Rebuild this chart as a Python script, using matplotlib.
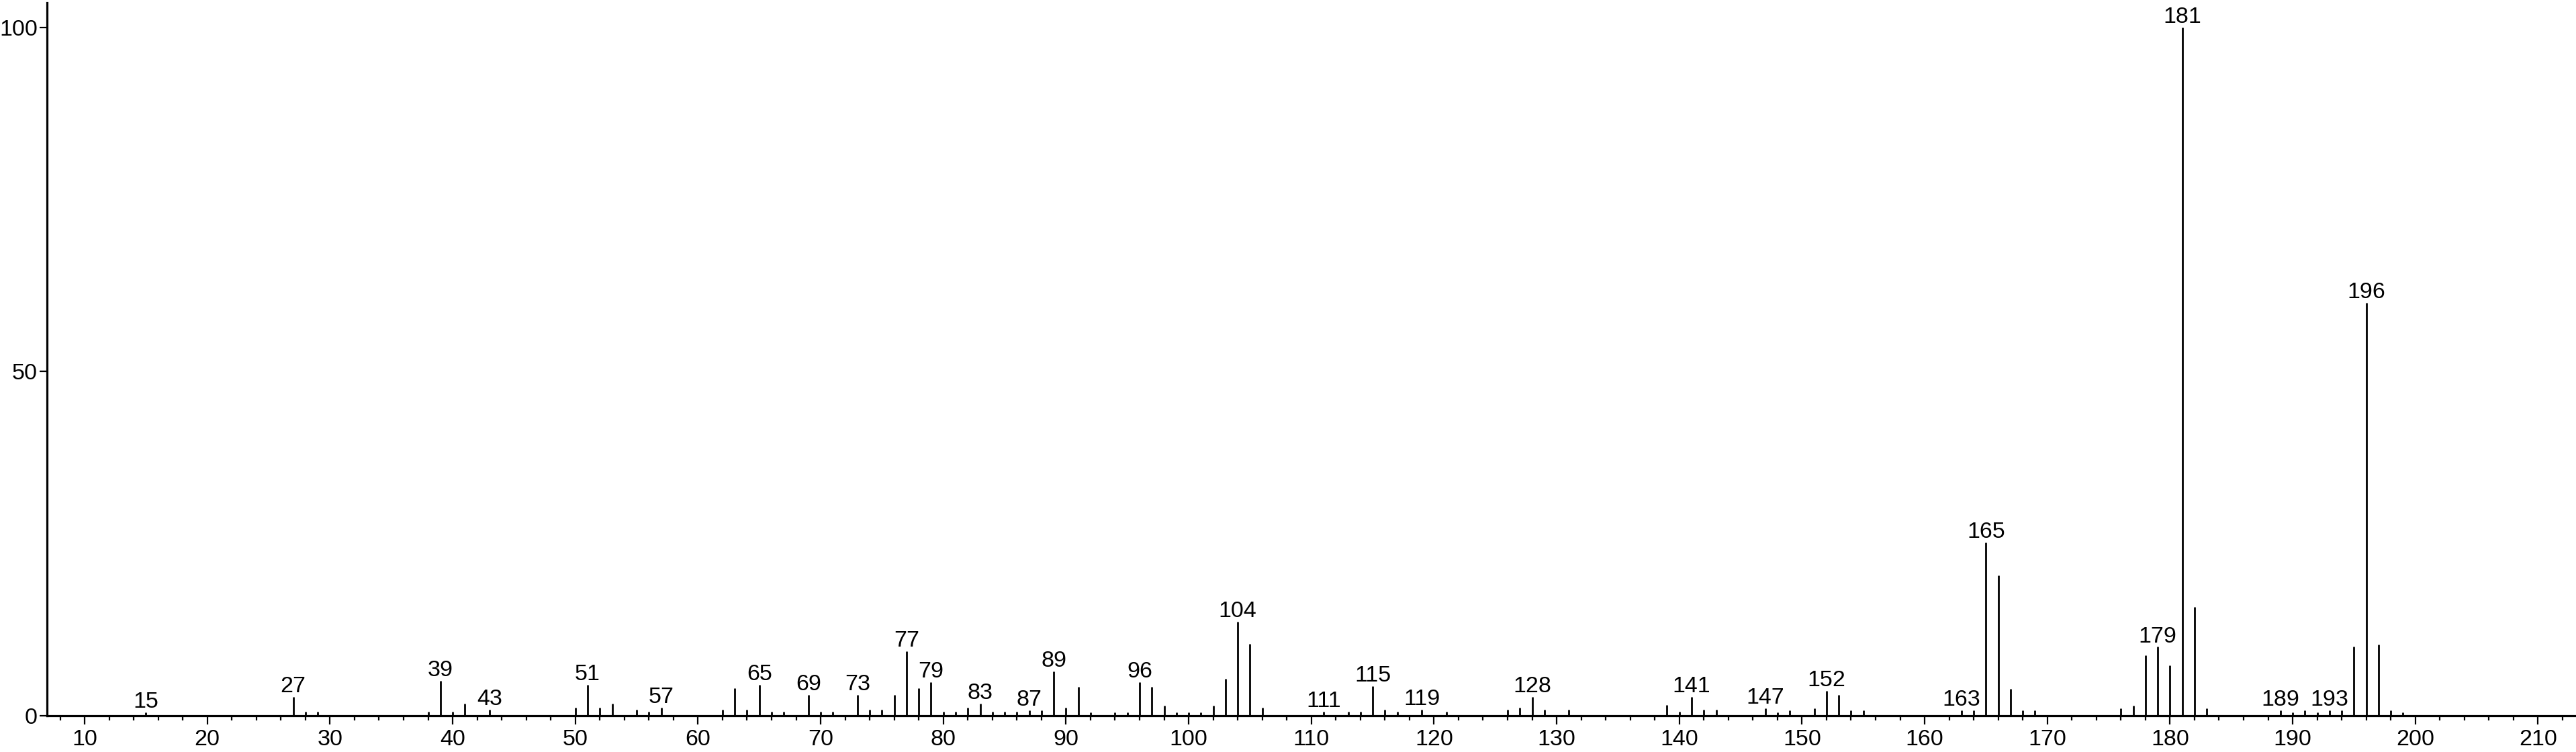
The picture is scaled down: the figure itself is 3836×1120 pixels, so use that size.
import matplotlib
matplotlib.use("Agg")
import matplotlib.pyplot as plt
from matplotlib import font_manager
from matplotlib.ticker import MultipleLocator

mz = [15, 27, 28, 29, 38, 39, 40, 41, 43, 50, 51, 52, 53, 55, 56, 57,
      62, 63, 64, 65, 66, 67, 69, 70, 71, 73, 74, 75, 76, 77, 78, 79,
      80, 81, 82, 83, 84, 85, 86, 87, 88, 89, 90, 91, 92, 94, 95, 96,
      97, 98, 99, 100, 101, 102, 103, 104, 105, 106, 111, 113, 114, 115,
      116, 117, 119, 121, 126, 127, 128, 129, 131, 139, 140, 141, 142, 143,
      147, 148, 149, 151, 152, 153, 154, 155, 163, 164, 165, 166, 167, 168,
      169, 176, 177, 178, 179, 180, 181, 182, 183, 189, 190, 191, 192, 193,
      194, 195, 196, 197, 198, 199]
intensity = [0.5, 2.7, 0.6, 0.6, 0.6, 5.1, 0.6, 1.8, 0.9, 1.2, 4.5, 1.2, 1.8, 0.9, 0.6, 1.2,
             0.9, 4.0, 0.9, 4.5, 0.6, 0.6, 3.0, 0.6, 0.6, 3.0, 0.9, 0.9, 3.0, 9.4, 4.0, 4.9,
             0.6, 0.6, 1.2, 1.8, 0.6, 0.6, 0.6, 0.8, 0.8, 6.4, 1.2, 4.2, 0.5, 0.5, 0.5, 4.9,
             4.2, 1.5, 0.5, 0.5, 0.5, 1.5, 5.4, 13.7, 10.4, 1.2, 0.6, 0.6, 0.6, 4.3,
             0.9, 0.6, 0.9, 0.6, 0.9, 1.2, 2.7, 0.9, 0.9, 1.6, 0.6, 2.7, 0.9, 0.9,
             1.1, 0.5, 0.8, 1.1, 3.6, 3.0, 0.8, 0.8, 0.8, 0.8, 25.2, 20.4, 3.9, 0.8,
             0.8, 1.1, 1.5, 8.8, 10.0, 7.3, 100.0, 15.8, 1.1, 0.8, 0.5, 0.8, 0.5, 0.8,
             0.8, 10.0, 60.0, 10.3, 0.8, 0.5]

# pics annotés
labeled = [15, 27, 39, 43, 51, 57, 65, 69, 73, 77, 79, 83, 87, 89, 96, 104,
           111, 115, 119, 128, 141, 147, 152, 163, 165, 179, 181, 189, 193, 196]

x_major = list(range(10, 211, 10))
y_ticks = [0, 50, 100]

names = {f.name for f in font_manager.fontManager.ttflist}
family = "Liberation Sans Narrow" if "Liberation Sans Narrow" in names else "Liberation Sans"
plt.rcParams["font.family"] = [family, "DejaVu Sans"]
fs = 24.5

W, H = 3836, 1120
fig = plt.figure(figsize=(W / 100, H / 100), dpi=100)
ax = fig.add_axes([70 / W, 54 / H, 1 - 70 / W, (1066 - 4) / H])

ax.vlines(mz, 0, intensity, color="black", lw=2.0)

heights = dict(zip(mz, intensity))
for m in labeled:
    ax.annotate(str(m), (m, heights[m]), xytext=(0, 5), textcoords="offset points",
                ha="center", va="baseline", fontsize=fs, clip_on=False)

ax.set_xlim(6.93, 213.1)
ax.set_ylim(0, 103.6)

for s in ["top", "right"]:
    ax.spines[s].set_visible(False)
for s in ["left", "bottom"]:
    ax.spines[s].set_linewidth(2.3)

ax.set_xticks(x_major)
ax.xaxis.set_minor_locator(MultipleLocator(2))
ax.set_yticks(y_ticks)
ax.tick_params(axis="x", which="major", length=9.5, width=1.6, labelsize=fs, pad=5)
ax.tick_params(axis="x", which="minor", length=5, width=1.6)
ax.tick_params(axis="y", which="major", length=8, width=1.6, labelsize=fs, pad=2)

fig.savefig("out.png", dpi=100)
